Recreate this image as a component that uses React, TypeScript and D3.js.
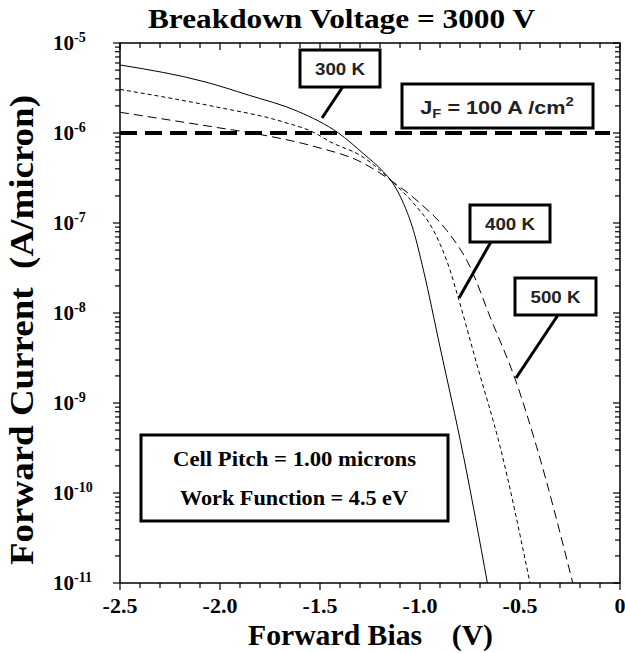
import React from "react";
import * as d3 from "d3";

const xTicks = [-2.5, -2.0, -1.5, -1.0, -0.5, 0];
const xTickLabels = ["-2.5", "-2.0", "-1.5", "-1.0", "-0.5", "0"];
const yDecades = [-11, -10, -9, -8, -7, -6, -5];

const v300 = [-2.5, -2.075, -1.858, -1.608, -1.408, -1.283, -1.183, -1.142, -1.083, -1.033, -0.983, -0.9, -0.783, -0.663];
const i300 = [5.7e-6, 3.7e-6, 2.64e-6, 1.73e-6, 1.0e-6, 5.9e-7, 3.7e-7, 2.9e-7, 1.66e-7, 8.3e-8, 3.0e-8, 4.2e-9, 2.6e-10, 1e-11];

const v400 = [-2.5, -2.025, -1.69, -1.525, -1.45, -1.29, -1.142, -1.033, -0.933, -0.85, -0.808, -0.717, -0.6, -0.45];
const i400 = [3.05e-6, 1.96e-6, 1.34e-6, 1.0e-6, 8.0e-7, 5.5e-7, 2.93e-7, 1.66e-7, 8.3e-8, 3.0e-8, 1.46e-8, 2.75e-9, 3.3e-10, 1e-11];

const v500 = [-2.5, -2.025, -1.808, -1.525, -1.29, -1.142, -1.0, -0.867, -0.75, -0.65, -0.517, -0.417, -0.236];
const i500 = [1.7e-6, 1.16e-6, 9.7e-7, 7.05e-7, 4.7e-7, 2.93e-7, 1.66e-7, 8.3e-8, 3.27e-8, 9.1e-9, 1.66e-9, 3.27e-10, 1e-11];

const jfLevel = 1e-6;

const W = 625, H = 653;
const L = 120, R = 620, T = 43, B = 583;

const serif = '"Liberation Serif"';
const sans = '"Liberation Sans"';

export default function App() {
  const x = d3.scaleLinear().domain([-2.5, 0]).range([L, R]);
  const y = d3.scaleLog().domain([1e-11, 1e-5]).range([B, T]);

  const line = d3
    .line<[number, number]>()
    .x((d) => x(d[0]))
    .y((d) => y(d[1]))
    .curve(d3.curveMonotoneX);

  const series = [
    { v: v300, i: i300, dash: undefined },
    { v: v400, i: i400, dash: "4,3" },
    { v: v500, i: i500, dash: "9,5" },
  ];

  const minorX = d3.range(-2.5, 0.0001, 0.1).map((d) => Math.round(d * 10) / 10);
  const minorY: number[] = [];
  for (let e = -11; e < -5; e++) {
    for (let m = 2; m <= 9; m++) minorY.push(m * Math.pow(10, e));
  }

  const sf = (size: number) => ({ fontFamily: serif, fontWeight: 700, fontSize: size } as React.CSSProperties);
  const ss = (size: number) => ({ fontFamily: sans, fontWeight: 700, fontSize: size } as React.CSSProperties);

  return (
    <svg width={W} height={H} style={{ position: "absolute", left: 0, top: 0 }}>
      <rect x={0} y={0} width={W} height={H} fill="white" />
      <defs>
        <clipPath id="plotclip">
          <rect x={L} y={T} width={R - L} height={B - T} />
        </clipPath>
      </defs>
      <text x={148} y={28} textLength={387} lengthAdjust="spacingAndGlyphs" style={sf(28)}>
        Breakdown Voltage = 3000 V
      </text>

      <g stroke="black" strokeWidth={1.2}>
        {minorX.map((v, k) => {
          const major = xTicks.some((t) => Math.abs(t - v) < 1e-6);
          const len = major ? 7 : 5;
          return (
            <g key={"xt" + k}>
              <line x1={x(v)} x2={x(v)} y1={B} y2={B + len} />
              <line x1={x(v)} x2={x(v)} y1={T} y2={T + len} />
            </g>
          );
        })}
        {yDecades.map((e) => (
          <g key={"yM" + e}>
            <line x1={L - 7} x2={L} y1={y(Math.pow(10, e))} y2={y(Math.pow(10, e))} />
            <line x1={R - 7} x2={R} y1={y(Math.pow(10, e))} y2={y(Math.pow(10, e))} />
          </g>
        ))}
        {minorY.map((v, k) => (
          <g key={"ym" + k}>
            <line x1={L - 5} x2={L} y1={y(v)} y2={y(v)} />
            <line x1={R - 5} x2={R} y1={y(v)} y2={y(v)} />
          </g>
        ))}
      </g>

      <rect x={L} y={T} width={R - L} height={B - T} fill="none" stroke="black" strokeWidth={1.5} />

      {yDecades.map((e) => (
        <text key={"yl" + e} x={53} y={y(Math.pow(10, e)) + 7} style={sf(21)}>
          10
          <tspan style={{ fontSize: 14 }} dy={-8}>
            {String(e)}
          </tspan>
        </text>
      ))}

      {xTicks.map((t, k) => (
        <text key={"xl" + k} x={x(t)} y={613} textAnchor="middle" style={sf(22)}>
          {xTickLabels[k]}
        </text>
      ))}

      <text x={248} y={645} textLength={245} lengthAdjust="spacingAndGlyphs" style={{ ...sf(29), whiteSpace: "pre" }}>
        {"Forward Bias    (V)"}
      </text>
      <text
        transform={`translate(33,565) rotate(-90)`}
        textLength={470}
        lengthAdjust="spacingAndGlyphs"
        style={{ ...sf(33), whiteSpace: "pre" }}
      >
        {"Forward Current  (A/micron)"}
      </text>

      <g clipPath="url(#plotclip)" fill="none" stroke="black" strokeWidth={1}>
        {series.map((s, k) => (
          <path
            key={"s" + k}
            d={line(s.v.map((v, j) => [v, s.i[j]] as [number, number])) || ""}
            strokeDasharray={s.dash}
          />
        ))}
        <line
          x1={x(-2.5)}
          x2={x(-0.05)}
          y1={y(jfLevel)}
          y2={y(jfLevel)}
          strokeWidth={4}
          strokeDasharray="17,8"
        />
      </g>

      <g stroke="black" strokeWidth={3} fill="white">
        <line x1={344} y1={85} x2={322} y2={118} />
        <line x1={492} y1={240} x2={459} y2={298} />
        <line x1={560} y1={312} x2={516} y2={378} />
        <rect x={300} y={50} width={80} height={37} />
        <rect x={402} y={84} width={191} height={44} />
        <rect x={470} y={205} width={80} height={37} />
        <rect x={515} y={278} width={81} height={37} />
        <rect x={141} y={435} width={307} height={86} />
      </g>
      <g fill="#222">
        <text x={315} y={75} textLength={50} lengthAdjust="spacingAndGlyphs" style={ss(17)}>300 K</text>
        <text x={485} y={230} textLength={50} lengthAdjust="spacingAndGlyphs" style={ss(17)}>400 K</text>
        <text x={530.5} y={303} textLength={50} lengthAdjust="spacingAndGlyphs" style={ss(17)}>500 K</text>
        <g transform="translate(497,114) scale(1.14,1)">
          <text x={0} y={0} textAnchor="middle" style={ss(19)}>
            J<tspan style={{ fontSize: 13 }} dy={4}>F</tspan>
            <tspan dy={-4}> = 100 A /cm</tspan>
            <tspan style={{ fontSize: 13 }} dy={-8}>2</tspan>
          </text>
        </g>
      </g>
      <g>
        <text x={173} y={466} textLength={243} lengthAdjust="spacingAndGlyphs" style={sf(22)}>Cell Pitch = 1.00 microns</text>
        <text x={180} y={505} textLength={228} lengthAdjust="spacingAndGlyphs" style={sf(22)}>Work Function = 4.5 eV</text>
      </g>
    </svg>
  );
}
